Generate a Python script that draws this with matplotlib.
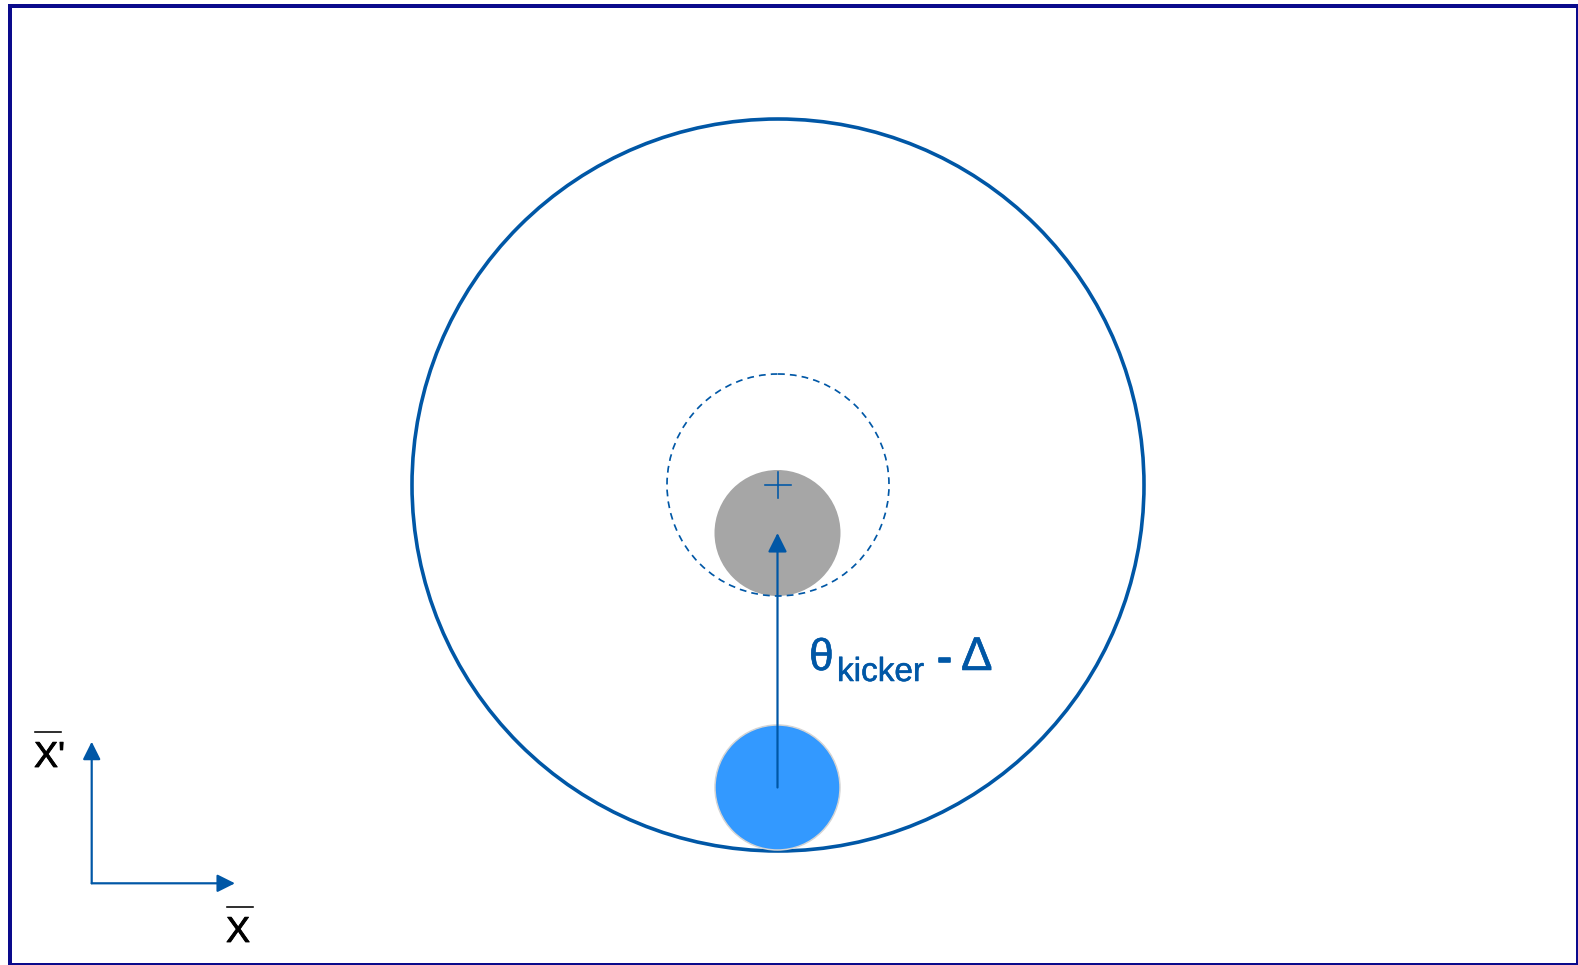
import matplotlib.pyplot as plt
from matplotlib import patches
import matplotlib.patheffects as pe

##########################################################
#                 Diagram geometry (pixels)              #
##########################################################

# Closed orbit / acceptance circle in normalised phase space
orbit_center = [778, 485]
orbit_radius = 366

# Dashed circle: aperture around the closed orbit
aperture_radius = 111

# Beam after the kick (grey) and injected beam (light blue)
kicked_center = [777.5, 533]
kicked_radius = 63
injected_center = [777.5, 787.5]
injected_radius = 62.5

# Phase-space axis indicator in the lower left corner
axis_origin = [91.7, 883.3]
axis_tips = [[91.7, 741.7], [235, 883.3]]
axis_labels = ["X'", "X"]

kick_label = ["\u03b8", "kicker", "-", "\u0394"]

BLUE = '#0057A6'
LIGHT_BLUE = '#3399FF'
GREY = '#A6A6A6'
NAVY = '#0A0A8C'

plt.rcParams['font.family'] = ['Liberation Sans', 'DejaVu Sans']

fig = plt.figure(figsize=(15.78, 9.65), dpi=100)
ax = fig.add_axes([0, 0, 1, 1])
ax.set_xlim(0, 1578)
ax.set_ylim(965, 0)
ax.set_aspect('equal')
ax.axis('off')

px = 72 / fig.dpi  # points per pixel


def heavy(color, width=0.4):
    '''Slightly thicker glyph strokes.'''
    return [pe.withStroke(linewidth=width, foreground=color)]


# Outer frame
ax.add_patch(patches.Rectangle((10, 6), 1568, 959, fill=False,
                               edgecolor=NAVY, lw=4 * px, zorder=1))

# Big orbit circle
ax.add_patch(patches.Circle(orbit_center, orbit_radius, fill=False,
                            edgecolor=BLUE, lw=3.6 * px, zorder=2))

# Dashed aperture
ax.add_patch(patches.Circle(orbit_center, aperture_radius, fill=False,
                            edgecolor=BLUE, lw=1.7 * px, ls=(0, (4, 3)),
                            zorder=3))

# Kicked beam
ax.add_patch(patches.Circle(kicked_center, kicked_radius, facecolor=GREY,
                            edgecolor='none', zorder=2))

# Injected beam
ax.add_patch(patches.Circle(injected_center, injected_radius,
                            facecolor=LIGHT_BLUE, edgecolor='#D4D4D4',
                            lw=1.5 * px, zorder=2))

# Cross marking the orbit centre
cx, cy = orbit_center
ax.plot([cx - 13, cx + 13], [cy, cy], color=BLUE, lw=1.6 * px, zorder=4)
ax.plot([cx, cx], [cy - 13, cy + 13], color=BLUE, lw=1.6 * px, zorder=4)

# Kick arrow from injected beam to kicked beam
ax.annotate('', xy=kicked_center, xytext=injected_center,
            arrowprops=dict(arrowstyle='-|>', mutation_scale=16 * px / 0.4,
                            color=BLUE, lw=2.2 * px, shrinkA=0, shrinkB=0),
            zorder=5)

# Kick label: theta_kicker - Delta
ax.text(809, 670, kick_label[0], fontsize=32, color=BLUE, va='baseline',
        ha='left', path_effects=heavy(BLUE))
ax.text(837, 681, kick_label[1], fontsize=24, color=BLUE, va='baseline',
        ha='left', path_effects=heavy(BLUE))
ax.text(937, 672, kick_label[2], fontsize=32, color=BLUE, va='baseline',
        ha='left', path_effects=heavy(BLUE, 1.2))
ax.text(961, 670, kick_label[3], fontsize=34, color=BLUE, va='baseline',
        ha='left', path_effects=heavy(BLUE))

# Axis indicator
for tip in axis_tips:
    ax.annotate('', xy=tip, xytext=axis_origin,
                arrowprops=dict(arrowstyle='-|>', mutation_scale=15 * px / 0.4,
                                color=BLUE, lw=2.2 * px, shrinkA=0, shrinkB=0))

label_pos = [[34, 767], [226, 942]]
for (lx, ly), lab in zip(label_pos, axis_labels):
    ax.text(lx, ly, lab, fontsize=26, color='black', va='baseline',
            ha='left', path_effects=heavy('black', 0.6))
    # overline bar above the X
    ax.plot([lx + 1, lx + 27], [ly - 35, ly - 35], color='black', lw=1.6 * px)

plt.savefig('out.png', dpi=100, facecolor='white')
